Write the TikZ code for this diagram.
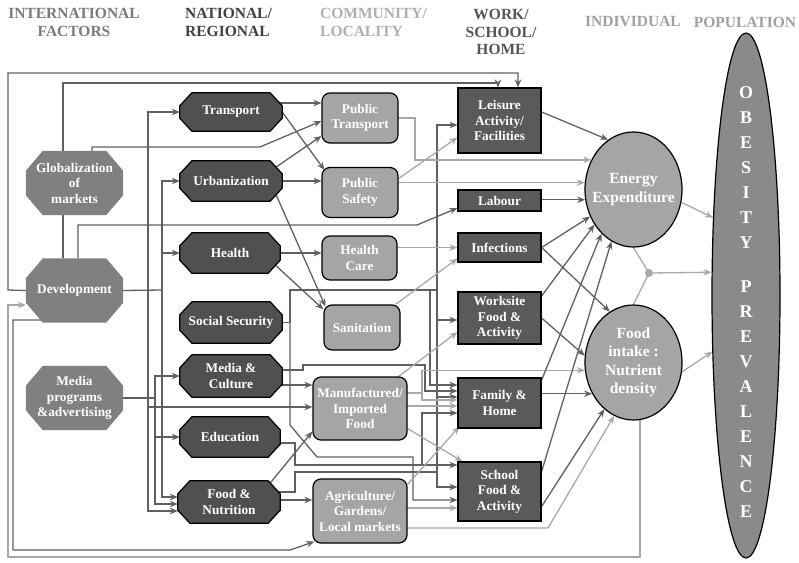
\documentclass[tikz,border=0pt]{standalone}
\usepackage{fontspec}
\setmainfont{Liberation Serif}
\usetikzlibrary{arrows.meta,shapes.geometric}

\definecolor{intlfill}{RGB}{128,128,128}
\definecolor{natlfill}{RGB}{80,80,80}
\definecolor{commfill}{RGB}{165,165,165}
\definecolor{workfill}{RGB}{90,90,90}
\definecolor{popfill}{RGB}{138,138,138}
\definecolor{linedark}{RGB}{96,96,96}
\definecolor{linelight}{RGB}{168,168,168}
\definecolor{hintlc}{RGB}{122,122,122}
\definecolor{hnatlc}{RGB}{64,64,64}
\definecolor{hcommc}{RGB}{175,175,175}
\definecolor{hworkc}{RGB}{85,85,85}
\definecolor{hindc}{RGB}{160,160,160}

\pgfdeclarelayer{bg}
\pgfdeclarelayer{shapes}
\pgfsetlayers{bg,shapes,main}

% octagon drawn round a named node: node, x-chamfer, y-chamfer, style
\newcommand\octshape[4]{%
  \begin{pgfonlayer}{shapes}
    \path[#4] ([xshift=#2]#1.north west) -- ([xshift=-#2]#1.north east)
      -- ([yshift=-#3]#1.north east) -- ([yshift=#3]#1.south east)
      -- ([xshift=-#2]#1.south east) -- ([xshift=#2]#1.south west)
      -- ([yshift=#3]#1.south west) -- ([yshift=-#3]#1.north west) -- cycle;
  \end{pgfonlayer}}

\tikzset{
  boxfont/.style={font=\fontsize{13.3}{15.5}\selectfont\bfseries},
  hdr/.style={font=\fontsize{15.5}{17.5}\selectfont\bfseries, align=center, inner sep=0pt},
  intl/.style={boxfont, text=white, align=center, inner sep=0pt,
    minimum width=97pt, minimum height=64pt},
  natl/.style={boxfont, text=white, align=center, inner sep=0pt,
    minimum width=102pt, minimum height=40pt},
  intlshape/.style={fill=intlfill},
  natlshape/.style={fill=natlfill, draw=black, line width=1.2pt},
  comm/.style={boxfont, draw=black, line width=1.2pt, fill=commfill,
    rounded corners=8pt, text=white, align=center, inner sep=0pt},
  work/.style={boxfont, draw=black, line width=1.2pt, fill=workfill,
    text=white, align=center, inner sep=0pt, minimum width=83pt},
  indiv/.style={ellipse, draw=black, line width=1.2pt, fill=commfill,
    minimum width=97pt, minimum height=115pt, inner sep=0pt},
  indtext/.style={font=\fontsize{15.5}{18.5}\selectfont\bfseries, text=white,
    align=center, inner sep=0pt},
  pop/.style={ellipse, draw=black, line width=1.2pt, fill=popfill,
    minimum width=68pt, minimum height=525pt, inner sep=0pt},
  poptext/.style={font=\fontsize{18}{25}\selectfont\bfseries, text=white,
    align=center, inner sep=0pt},
  junction/.style={circle, fill=linelight, minimum size=8pt, inner sep=0pt},
  dkline/.style={draw=linedark, line width=1.3pt},
  ltline/.style={draw=linelight, line width=1.3pt},
  dk/.style={dkline, -{Stealth[length=8pt,width=6.5pt]}},
  lt/.style={ltline, -{Stealth[length=8pt,width=6.5pt]}},
}

\begin{document}
\begin{tikzpicture}[x=1pt,y=-1pt]
\useasboundingbox (0,0) rectangle (799,562);

% headings
\node[hdr, text=hintlc] (hintl) at (74,22.5) {INTERNATIONAL\\FACTORS};
\node[hdr, text=hnatlc, align=left, anchor=west] (hnatl) at (185,22.5) {NATIONAL/\\REGIONAL};
\node[hdr, text=hcommc, align=left, anchor=west] (hcomm) at (320,22.5) {COMMUNITY/\\LOCALITY};
\node[hdr, text=hworkc] (hwork) at (501,32) {WORK/\\SCHOOL/\\HOME};
\node[hdr, text=hindc] (hindiv) at (633,22) {INDIVIDUAL};
\node[hdr, text=hindc] (hpop) at (745,22) {POPULATION};

% international factors
\node[intl] (glob) at (74.5,183) {Globalization\\of\\markets};
\octshape{glob}{17pt}{20pt}{intlshape}
\node[intl] (devel) at (74.5,290.5) {Development};
\octshape{devel}{17pt}{20pt}{intlshape}
\node[intl] (mediaprog) at (74.5,398) {Media\\programs\\\&advertising};
\octshape{mediaprog}{17pt}{20pt}{intlshape}

% national / regional
\node[natl, minimum height=38pt] (transport) at (231,112) {Transport};
\octshape{transport}{12pt}{13pt}{natlshape}
\node[natl] (urban) at (231,181) {Urbanization};
\octshape{urban}{12pt}{13pt}{natlshape}
\node[natl, minimum width=100pt] (health) at (230,253) {Health};
\octshape{health}{12pt}{13pt}{natlshape}
\node[natl, minimum height=41pt] (social) at (231,322.5) {Social Security};
\octshape{social}{12pt}{13pt}{natlshape}
\node[natl, minimum height=42pt] (media) at (231,376) {Media \&\\Culture};
\octshape{media}{12pt}{13pt}{natlshape}
\node[natl, minimum width=100pt] (educ) at (230,437) {Education};
\octshape{educ}{12pt}{13pt}{natlshape}
\node[natl, minimum height=42pt] (food) at (229,502) {Food \&\\Nutrition};
\octshape{food}{12pt}{13pt}{natlshape}

% community / locality
\node[comm, minimum width=76pt, minimum height=50pt] (ptrans) at (360,118) {Public\\Transport};
\node[comm, minimum width=76pt, minimum height=50pt] (psafety) at (360,192.5) {Public\\Safety};
\node[comm, minimum width=75pt, minimum height=44pt] (hcare) at (359.5,258) {Health\\Care};
\node[comm, minimum width=76pt, minimum height=45pt] (sanit) at (362,327.5) {Sanitation};
\node[comm, minimum width=94pt, minimum height=63pt] (manuf) at (360,408.5) {Manufactured/\\Imported\\Food};
\node[comm, minimum width=94pt, minimum height=64pt] (agri) at (360,511) {Agriculture/\\Gardens/\\Local markets};

% work / school / home
\node[work, minimum height=65pt] (leisure) at (499.5,120.5) {Leisure\\Activity/\\Facilities};
\node[work, minimum height=21pt] (labour) at (499.5,200.5) {Labour};
\node[work, minimum height=29pt] (infect) at (499.5,247.5) {Infections};
\node[work, minimum height=52pt] (worksite) at (499.5,318) {Worksite\\Food \&\\Activity};
\node[work, minimum height=50pt] (family) at (499.5,403) {Family \&\\Home};
\node[work, minimum height=59pt] (school) at (499.5,491.5) {School\\Food \&\\Activity};

% individual
\node[indiv] (energy) at (633.5,189.5) {};
\node[indtext] (energytext) at (energy.center) {Energy\\Expenditure};
\node[indiv] (intake) at (633.5,362.5) {};
\node[indtext] (intaketext) at (intake.center) {Food\\intake :\\Nutrient\\density};
\node[junction] (junc) at (649,273) {};

% population
\node[pop] (obesity) at (746,295.5) {};
\node[poptext] (obtext) at ([yshift=-7pt]obesity.center)
  {O\\B\\E\\S\\I\\T\\Y\\[19pt]P\\R\\E\\V\\A\\L\\E\\N\\C\\E};

\begin{pgfonlayer}{bg}
% long loops over the top
\draw[dk] (devel.west) -- (8,290) -- (8,73) -- (518,73) -- (518,0 |- leisure.north);
\draw[dk] (63,0 |- devel.north) -- (63,83) -- (498,83) -- (498,0 |- leisure.north);
\draw[dk] (92,0 |- glob.north) -- (92,147) -- (260,147) -- (ptrans.west |- 0,121);
\draw[dk] (78,0 |- devel.north) -- (78,225) -- (417,225) -- (labour.west |- 0,208);

% international to national
\draw[dkline] (devel.east) -- (162,290);
\draw[dk] (162,290) -- (162,181) -- (urban.west);
\draw[dk] (162,253) -- (health.west);
\draw[dk] (162,290) -- (162,497) -- (food.west |- 0,497);
\draw[dk] (148,290) -- (148,112) -- (transport.west);
\draw[dk] (148,290) -- (148,511) -- (food.west |- 0,511);
\draw[dk] (148,407) -- (manuf.west |- 0,407);
\draw[dkline] (mediaprog.east) -- (155,398);
\draw[dk] (155,398) -- (155,376) -- (media.west);
\draw[dk] (155,398) -- (155,437) -- (educ.west);
\draw[dk] (155,437) -- (155,504) -- (food.west |- 0,504);
\draw[dk] (devel.center |- 0,320) -- (13,320) -- (13,550) -- (290,550)
  -- ([xshift=2pt,yshift=2pt]agri.south west);
\draw[lt] (intake.center -| 640,0) -- (640,557) -- (8,557) -- (8,305)
  -- (devel.west |- 0,305);

% national to community
\draw[dk] (transport.center |- 0,103) -- (ptrans.west |- 0,103);
\draw[dk] (transport.east) -- ([xshift=3pt,yshift=-3pt]psafety.north west);
\draw[dk] ([xshift=-6pt,yshift=14pt]urban.east) -- (ptrans.west |- 0,136);
\draw[dk] (urban.center) -- (psafety.west |- urban.center);
\draw[dk] ([xshift=-6pt,yshift=-14pt]urban.east) -- ([xshift=2pt,yshift=-2pt]sanit.north west);
\draw[dk] (health.center) -- (hcare.west |- health.center);
\draw[dk] ([xshift=-5pt,yshift=-12pt]health.east) -- ([yshift=-5pt]sanit.north west);
\draw[dk] (media.center |- 0,385) -- (manuf.west |- 0,385);
\draw[dk] ([xshift=-10pt,yshift=19pt]food.east) -- ([yshift=-23pt]manuf.west);
\draw[dk] (food.center |- 0,500) -- (agri.west |- 0,500);

% national to work / school / home
\draw[dk] (social.center) -- (290,322.5) -- (290,290) -- (437,290) -- (437,125)
  -- (leisure.west |- 0,125);
\draw[dk] (290,322.5) -- (290,425) -- (317,457) -- (413,457) -- (413,500)
  -- (school.west |- 0,500);
\draw[dk] (430,290) -- (430,385) -- (family.west |- 0,385);
\draw[dk] (437,290) -- (437,320) -- (worksite.west |- 0,320);
\draw[dkline] (437,320) -- (437,472);
\draw[dk] (437,397) -- (family.west |- 0,397);
\draw[dk] (media.center |- 0,370) -- (303,370) -- (303,365) -- (425,365) -- (425,391)
  -- (family.west |- 0,391);
\draw[dk] (educ.center |- 0,443) -- (295,443) -- (295,465) -- (school.west |- 0,465);
\draw[dk] (422,465) -- (422,413) -- (family.west |- 0,413);
\draw[dk] (food.center |- 0,492) -- (295,492) -- (295,472) -- (437,472) -- (437,487)
  -- (school.west |- 0,487);

% community to work / individual
\draw[lt] (ptrans.center) -- (415,0 |- ptrans.center) -- (415,0 |- energy.145) -- (energy.145);
\draw[lt] (psafety.center |- energy.172) -- (energy.172);
\draw[lt] ([yshift=14pt]psafety.east) -- ([yshift=-17pt]leisure.west);
\draw[lt] (hcare.center |- infect.west) -- (infect.west);
\draw[lt] ([xshift=-5pt]sanit.north east) -- ([yshift=-11pt]infect.west);
\draw[lt] ([xshift=-9pt]manuf.north east) -- ([yshift=-14pt]worksite.west);
\draw[lt] (manuf.center |- 0,393) -- (422,393) -- (422,0 |- intake.189) -- (intake.189);
\draw[lt] (422,393) -- (422,400) -- (family.west |- 0,400);
\draw[lt] (manuf.center |- 0,406) -- (family.west |- 0,406);
\draw[lt] ([yshift=12pt]manuf.south east) -- ([xshift=5pt]school.north west);
\draw[lt] (agri.center |- 0,508) -- (school.west |- 0,508);
\draw[lt] ([yshift=-6pt]agri.north east) -- ([xshift=2pt,yshift=2pt]family.south west);
\draw[lt] (agri.center |- 0,528) -- (548,528) -- (intake.250);

% work to individual
\draw[dk] (leisure.east |- 0,112) -- (energy.117);
\draw[dk] (labour.center |- energy.192) -- (energy.192);
\draw[dk] (infect.east) -- (energy.212);
\draw[dk] (infect.east) -- (intake.115);
\draw[dk] ([yshift=22pt]worksite.east) -- (energy.222);
\draw[dk] (worksite.east) -- (intake.172);
\draw[dk] ([yshift=23pt]family.east) -- (energy.234);
\draw[dk] (family.center |- intake.217) -- (intake.217);
\draw[dk] ([yshift=20pt]school.east) -- (energy.247);
\draw[dk] ([yshift=-15pt]school.east) -- (intake.238);

% individual to population
\draw[lt] (energy.345) -- (obesity.113);
\draw[lt] (intake.349) -- (obesity.239);
\draw[ltline] (energy.south) -- (junc.center) -- (intake.north);
\draw[lt] (junc) -- (obesity.146);
\end{pgfonlayer}
\end{tikzpicture}
\end{document}
